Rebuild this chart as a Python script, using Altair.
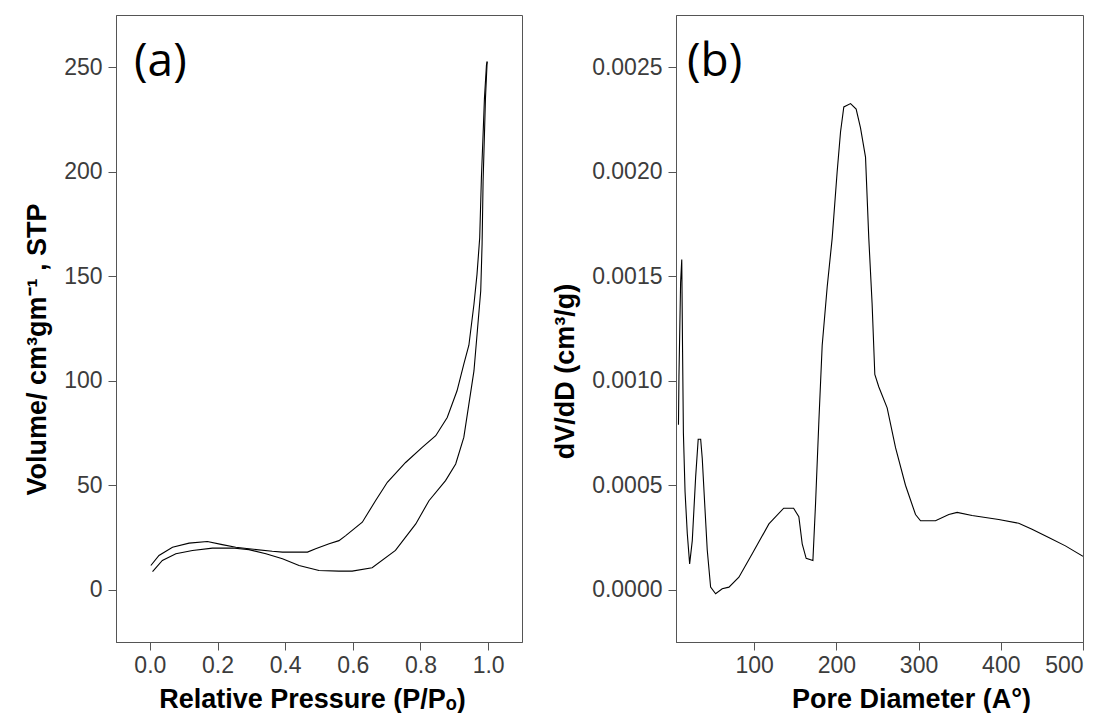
import altair as alt
import pandas as pd

# ---- Panel (a): N2 isotherm ----
ads_p = [0.008, 0.037, 0.077, 0.126, 0.185, 0.244, 0.293, 0.343, 0.392, 0.441, 0.500, 0.559,
         0.598, 0.657, 0.726, 0.786, 0.825, 0.874, 0.904, 0.928, 0.943, 0.958, 0.968, 0.978,
         0.982, 0.985, 0.989, 0.992, 0.997]
ads_v = [8.7, 14.0, 17.2, 18.8, 19.9, 20.0, 19.2, 17.2, 14.8, 11.6, 9.2, 8.9,
         8.9, 10.5, 18.8, 31.5, 42.6, 52.2, 60.2, 72.9, 88.8, 104.7, 123.8, 142.9,
         165.2, 195.5, 217.8, 235.0, 252.8]
des_p = [0.003, 0.027, 0.067, 0.116, 0.170, 0.214, 0.254, 0.293, 0.362, 0.392, 0.466, 0.490,
         0.530, 0.559, 0.579, 0.628, 0.667, 0.702, 0.756, 0.805, 0.845, 0.879, 0.908, 0.928,
         0.943, 0.958, 0.967, 0.975, 0.980, 0.985, 0.989, 0.995, 0.997]
des_v = [11.6, 16.4, 20.3, 22.3, 23.1, 21.6, 20.3, 19.6, 18.4, 18.0, 18.0, 19.6,
         22.0, 23.5, 25.9, 32.3, 42.6, 51.4, 60.9, 68.1, 73.7, 82.4, 95.2, 107.9,
         117.0, 136.6, 150.9, 168.4, 197.0, 217.8, 235.2, 251.2, 252.6]

# ---- Panel (b): pore size distribution ----
pore_d = [8.0, 8.6, 10.6, 12.0, 13.0, 14.0, 16.0, 18.7, 21.6, 24.8, 28.9, 32.0, 35.0, 36.9,
          40.2, 43.0, 47.1, 53.2, 61.2, 69.4, 81.5, 97.7, 118.0, 136.0, 148.0, 154.4, 158.5,
          163.3, 171.5, 174.7, 178.8, 182.8, 188.9, 194.9, 201.0, 205.1, 209.1, 217.3, 224.1,
          229.4, 235.5, 239.5, 243.5, 246.8, 251.7, 261.8, 272.0, 284.1, 296.3, 302.4, 320.6,
          336.8, 346.9, 365.1, 397.5, 421.8, 438.0, 458.3, 478.6, 500.0]
dvdd = [0.00079, 0.00102, 0.00147, 0.00158, 0.00114, 0.00075, 0.00047, 0.00027, 0.000124,
        0.000235, 0.00054, 0.00072, 0.00072, 0.00063, 0.00039, 0.00019, 0.0000125, -0.000019,
        0.000005, 0.0000125, 0.00006, 0.000172, 0.000315, 0.00039, 0.00039, 0.00035, 0.00022,
        0.00015, 0.00014, 0.00041, 0.00081, 0.00117, 0.00145, 0.00168, 0.0020, 0.00219,
        0.00231, 0.002326, 0.0023, 0.00221, 0.00207, 0.00168, 0.00137, 0.00103, 0.00097,
        0.00087, 0.00068, 0.0005, 0.00036, 0.00033, 0.00033, 0.00036, 0.00037, 0.000355,
        0.000336, 0.000318, 0.00029, 0.00025, 0.00021, 0.00016]

a_ticks_x = [0.0, 0.2, 0.4, 0.6, 0.8, 1.0]
a_ticks_y = [0, 50, 100, 150, 200, 250]
b_ticks_x = [100, 200, 300, 400, 500]
b_ticks_y = [0.0, 0.0005, 0.0010, 0.0015, 0.0020, 0.0025]

df_a = pd.concat([
    pd.DataFrame({"p": ads_p, "v": ads_v, "branch": "adsorption"}),
    pd.DataFrame({"p": des_p, "v": des_v, "branch": "desorption"}),
])
df_b = pd.DataFrame({"d": pore_d, "y": dvdd})

W, H = 406, 627
LABEL_FONT = "Liberation Sans"
PANEL_FONT = "Open Sans"

line_a = alt.Chart(df_a).mark_line(color="black", strokeWidth=1.1, clip=True).encode(
    x=alt.X("p:Q", scale=alt.Scale(domain=[-0.1, 1.1], nice=False, zero=False),
            axis=alt.Axis(values=a_ticks_x, format=".1f", title="Relative Pressure (P/Pₒ)",
                          titleX=196)),
    y=alt.Y("v:Q", scale=alt.Scale(domain=[-25, 275], nice=False, zero=False),
            axis=alt.Axis(values=a_ticks_y, format="d", title="Volume/ cm³gm⁻¹ , STP",
                          titleY=334)),
    detail="branch:N",
)
lab_a = alt.Chart(pd.DataFrame({"t": ["(a)"]})).mark_text(
    font=PANEL_FONT, fontSize=46, align="left", baseline="middle", color="black"
).encode(text="t:N", x=alt.value(18), y=alt.value(47))
panel_a = alt.layer(line_a, lab_a).properties(width=W, height=H)

line_b = alt.Chart(df_b).mark_line(color="black", strokeWidth=1.1, clip=True).encode(
    x=alt.X("d:Q", scale=alt.Scale(domain=[5, 500], nice=False, zero=False),
            axis=alt.Axis(values=b_ticks_x, format="d", title="Pore Diameter (A°)",
                          titleX=235)),
    y=alt.Y("y:Q", scale=alt.Scale(domain=[-0.00025, 0.00275], nice=False, zero=False),
            axis=alt.Axis(values=b_ticks_y, format=".4f", title="dV/dD (cm³/g)",
                          titleY=356)),
)
lab_b = alt.Chart(pd.DataFrame({"t": ["(b)"]})).mark_text(
    font=PANEL_FONT, fontSize=46, align="left", baseline="middle", color="black"
).encode(text="t:N", x=alt.value(11), y=alt.value(47))
panel_b = alt.layer(line_b, lab_b).properties(width=W + 1, height=H)

chart = alt.hconcat(panel_a, panel_b, spacing=28).properties(
    padding={"left": 15, "top": 6, "right": 0, "bottom": 0},
    background="white",
).configure_view(
    stroke="#555", strokeWidth=1
).configure_axis(
    grid=False,
    domainColor="#555",
    tickColor="#555",
    tickSize=8,
    labelFont=LABEL_FONT,
    labelFontSize=23,
    labelColor="#3c3c3c",
    labelPadding=6,
    titleFont=LABEL_FONT,
    titleFontSize=27,
    titleFontWeight="bold",
    titleColor="black",
).configure_axisX(
    titlePadding=9,
    labelPadding=4,
).configure_axisY(
    titlePadding=12,
)

chart.save("out.html", embed_options={"renderer": "svg", "actions": False})
